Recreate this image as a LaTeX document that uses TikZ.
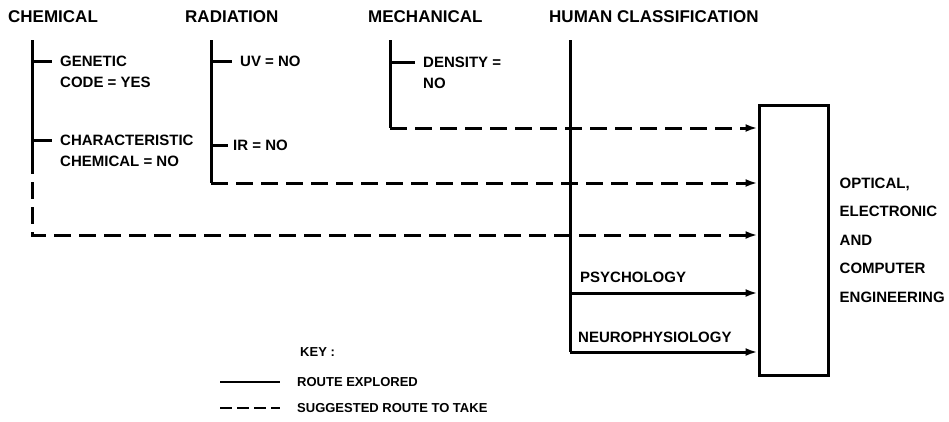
\documentclass[tikz,border=0pt]{standalone}
\usepackage{fontspec}
\setmainfont{Liberation Sans}
\usetikzlibrary{arrows.meta, positioning}

\begin{document}
\begin{tikzpicture}[x=1pt, y=-1pt,
    heading/.style={anchor=west, inner sep=0pt, font=\fontsize{17}{20}\selectfont\bfseries},
    branchtext/.style={anchor=north west, align=left, inner sep=0pt, font=\fontsize{15}{21}\selectfont\bfseries},
    keytext/.style={anchor=west, inner sep=0pt, font=\fontsize{13}{15}\selectfont\bfseries},
    explored/.style={line width=3pt},
    suggested/.style={line width=3pt, dash pattern=on 17pt off 8pt},
    into/.style={-{Latex[length=12pt,width=8pt]}}]
  \useasboundingbox (0,0) rectangle (949,421);

  % headings
  \node[heading] (chem) at (8,17) {CHEMICAL};
  \node[heading] (rad) at (185,17) {RADIATION};
  \node[heading] (mech) at (368,17) {MECHANICAL};
  \node[heading] (human) at (549,17) {HUMAN CLASSIFICATION};

  % target box
  \node[draw, line width=3pt, minimum width=69pt, minimum height=270pt, inner sep=0pt]
    (eng) at (793.5,240) {};
  \node[anchor=west, align=left, inner sep=0pt, font=\fontsize{15}{28.5}\selectfont\bfseries,
    right=10pt of eng] (engtext) {OPTICAL,\\ELECTRONIC\\AND\\COMPUTER\\ENGINEERING};

  % branch labels
  \node[branchtext] (genetic) at (60,55.5) {GENETIC\\CODE = YES};
  \node[branchtext] (charchem) at (60,134.5) {CHARACTERISTIC\\CHEMICAL = NO};
  \node[branchtext] (uv) at (240,55.5) {UV = NO};
  \node[branchtext] (ir) at (233,139.5) {IR = NO};
  \node[branchtext] (density) at (423,56.5) {DENSITY =\\NO};
  \node[branchtext] (psych) at (580,271.5) {PSYCHOLOGY};
  \node[branchtext] (neuro) at (578,331.5) {NEUROPHYSIOLOGY};

  \coordinate (chemtop) at (32,40);
  \coordinate (chemdash) at (32,157);
  \coordinate (chemcorner) at (32,235);
  \coordinate (radtop) at (211,40);
  \coordinate (radcorner) at (211,183);
  \coordinate (mechtop) at (390,40);
  \coordinate (mechcorner) at (390,128);
  \coordinate (humantop) at (570,40);
  \coordinate (psychline) at (570,293);
  \coordinate (humanbot) at (570,352);

  % chemical
  \draw[explored] (chemtop) -- (chemdash);
  \draw[explored] (chemtop |- 0,61) -- (52,61);
  \draw[explored] (chemtop |- 0,140) -- (52,140);
  \draw[suggested, into] (chemdash) -- (chemcorner) -- (eng.west |- chemcorner);

  % radiation
  \draw[explored] (radtop) -- (radcorner);
  \draw[explored] (radtop |- 0,61) -- (232,61);
  \draw[explored] (radtop |- 0,145) -- (228,145);
  \draw[suggested, into] (radcorner) -- (eng.west |- radcorner);

  % mechanical
  \draw[explored] (mechtop) -- (mechcorner);
  \draw[explored] (mechtop |- 0,62) -- (415,62);
  \draw[suggested, into] (mechcorner) -- (eng.west |- mechcorner);

  % human classification
  \draw[explored] (humantop) -- (humanbot);
  \draw[explored, into] (psychline) -- (eng.west |- psychline);
  \draw[explored, into] (humanbot) -- (eng.west |- humanbot);

  % key
  \node[keytext] (key) at (300,352) {KEY :};
  \node[keytext] (explkey) at (297,382) {ROUTE EXPLORED};
  \node[keytext] (suggkey) at (297,408) {SUGGESTED ROUTE TO TAKE};
  \coordinate (explstart) at (220,382);
  \coordinate (suggstart) at (220,408);
  \draw[line width=1.4pt] (explstart) -- ([xshift=-17pt]explkey.west);
  \draw[line width=2pt, dash pattern=on 12pt off 5pt] (suggstart) -- ([xshift=-17pt]suggkey.west);
\end{tikzpicture}
\end{document}
